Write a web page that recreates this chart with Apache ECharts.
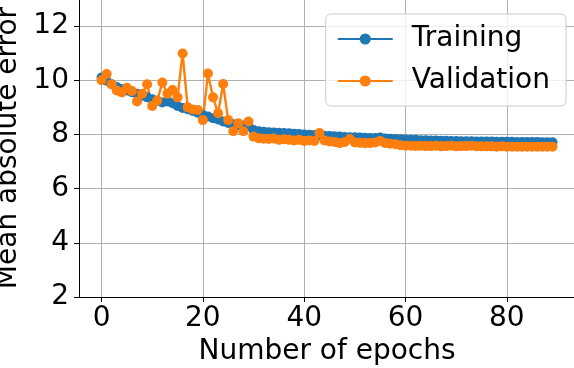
<!DOCTYPE html>
<html>
<head>
<meta charset="utf-8">
<script src="https://cdn.jsdelivr.net/npm/echarts@6/dist/echarts.min.js"></script>
<style>
  html, body { margin: 0; padding: 0; background: #fff; }
  #chart { width: 574px; height: 368px; }
</style>
</head>
<body>
<div id="chart"></div>
<script>
let trainingMae = [
  10.1, 9.98, 9.85, 9.75, 9.68, 9.62, 9.56, 9.5, 9.43, 9.37,
  9.3, 9.24, 9.18, 9.22, 9.15, 9.05, 8.98, 8.93, 8.87, 8.8,
  8.72, 8.66, 8.6, 8.55, 8.48, 8.42, 8.38, 8.35, 8.33, 8.3,
  8.16, 8.12, 8.1, 8.08, 8.07, 8.06, 8.05, 8.04, 8.03, 8.02,
  8.0, 7.99, 7.98, 7.97, 7.95, 7.94, 7.93, 7.92, 7.91, 7.9,
  7.9, 7.89, 7.88, 7.87, 7.87, 7.89, 7.85, 7.84, 7.83, 7.82,
  7.81, 7.8, 7.8, 7.79, 7.79, 7.78, 7.78, 7.77, 7.77, 7.76,
  7.76, 7.75, 7.75, 7.75, 7.74, 7.74, 7.74, 7.74, 7.73, 7.73,
  7.73, 7.73, 7.72, 7.72, 7.72, 7.72, 7.72, 7.71, 7.71, 7.71
];
let validationMae = [
  10.0, 10.23, 9.85, 9.62, 9.55, 9.72, 9.6, 9.22, 9.5, 9.85,
  9.05, 9.25, 9.92, 9.5, 9.64, 9.37, 10.99, 9.0, 8.92, 8.9,
  8.53, 10.25, 9.37, 8.78, 9.86, 8.53, 8.12, 8.41, 8.12, 8.48,
  7.92, 7.86, 7.84, 7.83, 7.85, 7.8, 7.82, 7.8, 7.78, 7.8,
  7.76, 7.78, 7.76, 8.05, 7.78, 7.74, 7.72, 7.68, 7.72, 7.83,
  7.7, 7.69, 7.68, 7.68, 7.7, 7.76, 7.68, 7.66, 7.64, 7.6,
  7.58, 7.58, 7.57, 7.58, 7.57, 7.57, 7.58, 7.56, 7.57, 7.58,
  7.56, 7.57, 7.57, 7.58, 7.56, 7.56, 7.56, 7.56, 7.55, 7.56,
  7.55, 7.55, 7.55, 7.55, 7.55, 7.55, 7.55, 7.55, 7.55, 7.55
];
let xTicks = [0, 20, 40, 60, 80];
let yTicks = [2, 4, 6, 8, 10, 12];

let font = 'DejaVu Sans';
let fontSize = 28;
let toPairs = (values) => values.map((v, i) => [i, v]);

let gridLine = { show: true, lineStyle: { color: '#b0b0b0', width: 1 } };

let makeSeries = (name, values, color) => ({
  name: name,
  type: 'line',
  data: toPairs(values),
  symbol: 'circle',
  symbolSize: 10,
  showAllSymbol: true,
  itemStyle: { color: color },
  lineStyle: { color: color, width: 2.4 },
  emphasis: { disabled: true },
  animation: false
});

let chart = echarts.init(document.getElementById('chart'), null, { renderer: 'canvas' });
chart.setOption({
  animation: false,
  textStyle: { fontFamily: font },
  grid: { left: 79, right: -1, top: -1, bottom: 71, containLabel: false, outerBoundsMode: 'none' },
  legend: {
    orient: 'vertical',
    right: 8,
    top: 14,
    padding: [11, 16, 11, 11],
    itemGap: 14,
    itemWidth: 55,
    itemHeight: 14,
    backgroundColor: 'rgba(255,255,255,0.8)',
    borderColor: '#cccccc',
    borderWidth: 1,
    borderRadius: 5,
    textStyle: { fontFamily: font, fontSize: fontSize, color: '#000', lineHeight: 28, padding: [0, 0, 0, 14] },
    data: ['Training', 'Validation']
  },
  xAxis: {
    type: 'value',
    min: -4.45,
    max: 93.45,
    name: 'Number of epochs',
    nameLocation: 'middle',
    nameGap: 40,
    nameTextStyle: { fontFamily: font, fontSize: fontSize, color: '#000' },
    axisLine: { show: true, onZero: false, lineStyle: { color: '#000', width: 1 } },
    axisTick: { show: true, length: 5, lineStyle: { color: '#000' }, customValues: xTicks },
    axisLabel: { fontFamily: font, fontSize: fontSize, color: '#000', margin: 8, customValues: xTicks },
    splitLine: gridLine
  },
  yAxis: {
    type: 'value',
    min: 2,
    max: 13,
    name: 'Mean absolute error',
    nameLocation: 'middle',
    nameGap: 50,
    nameTextStyle: { fontFamily: font, fontSize: fontSize, color: '#000' },
    axisLine: { show: true, onZero: false, lineStyle: { color: '#000', width: 1 } },
    axisTick: { show: true, length: 5, lineStyle: { color: '#000' }, customValues: yTicks },
    axisLabel: { fontFamily: font, fontSize: fontSize, color: '#000', margin: 10, customValues: yTicks },
    splitLine: gridLine
  },
  series: [
    makeSeries('Training', trainingMae, '#1f77b4'),
    makeSeries('Validation', validationMae, '#ff7f0e')
  ]
});
</script>
</body>
</html>
